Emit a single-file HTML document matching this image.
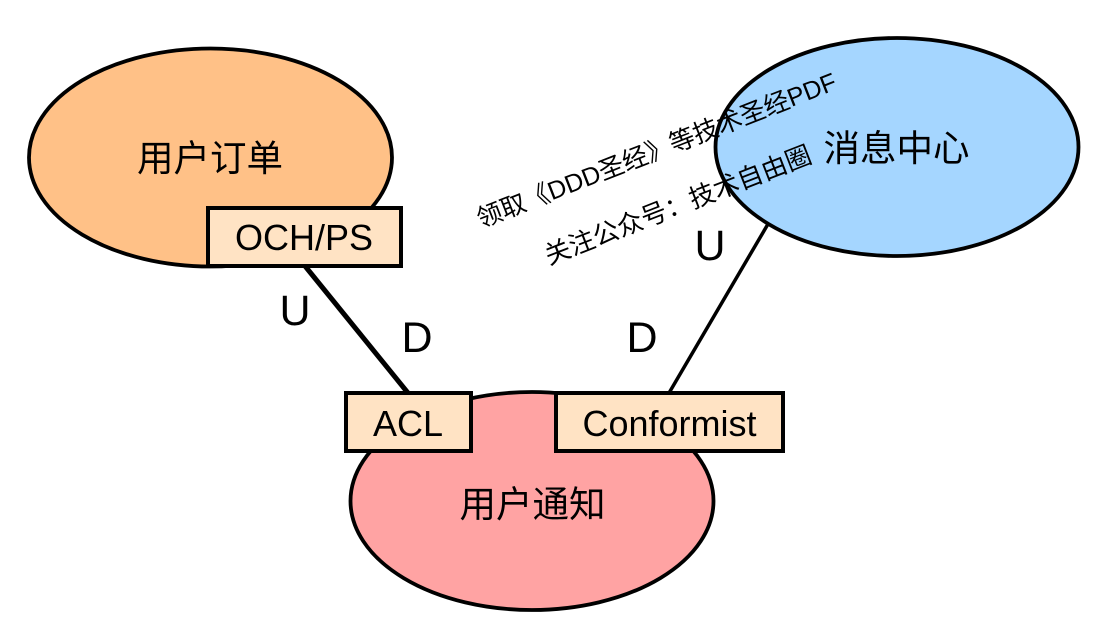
<!DOCTYPE html>
<html lang="zh">
<head>
<meta charset="utf-8">
<style>
html,body{margin:0;padding:0;background:#fff}
svg{display:block}
text{font-family:"Liberation Sans","Noto Sans CJK SC","WenQuanYi Zen Hei",sans-serif;fill:#000}
</style>
</head>
<body>
<svg width="1105" height="640" viewBox="0 0 1105 640" xmlns="http://www.w3.org/2000/svg">
<rect width="1105" height="640" fill="#fff"/>
<ellipse cx="210.500" cy="157.500" rx="181.500" ry="109" fill="#ffc187" stroke="#000" stroke-width="3.800"/>
<ellipse cx="897" cy="147" rx="181.500" ry="109" fill="#a5d6ff" stroke="#000" stroke-width="3.800"/>
<ellipse cx="532" cy="501" rx="181.500" ry="109" fill="#ffa3a3" stroke="#000" stroke-width="3.800"/>
<line x1="305" y1="266" x2="408" y2="393" stroke="#000" stroke-width="5"/>
<line x1="768" y1="224" x2="669" y2="393" stroke="#000" stroke-width="3.500"/>
<rect x="208" y="208" width="193" height="58" fill="#ffe3c4" stroke="#000" stroke-width="4"/>
<rect x="346" y="393" width="125" height="58" fill="#ffe3c4" stroke="#000" stroke-width="4"/>
<rect x="556" y="393" width="227" height="58" fill="#ffe3c4" stroke="#000" stroke-width="4"/>
<g font-size="36.500" text-anchor="middle">
<text x="210" y="171">用户订单</text>
<text x="896.500" y="161">消息中心</text>
<text x="532.500" y="517">用户通知</text>
</g>
<g font-size="36" text-anchor="middle">
<text x="304" y="250">OCH/PS</text>
<text x="408" y="436">ACL</text>
<text x="669.500" y="436">Conformist</text>
</g>
<g font-size="43" text-anchor="middle">
<text x="295" y="325">U</text>
<text x="417" y="352">D</text>
<text x="710" y="260">U</text>
<text x="642" y="352">D</text>
</g>
<g>
<text font-size="25.300" transform="translate(481 228) rotate(-21.300)">领取《DDD圣经》等技术圣经PDF</text>
<text font-size="25.800" transform="translate(549 265) rotate(-21.300)">关注公众号：技术自由圈</text>
</g>
</svg>
</body>
</html>
